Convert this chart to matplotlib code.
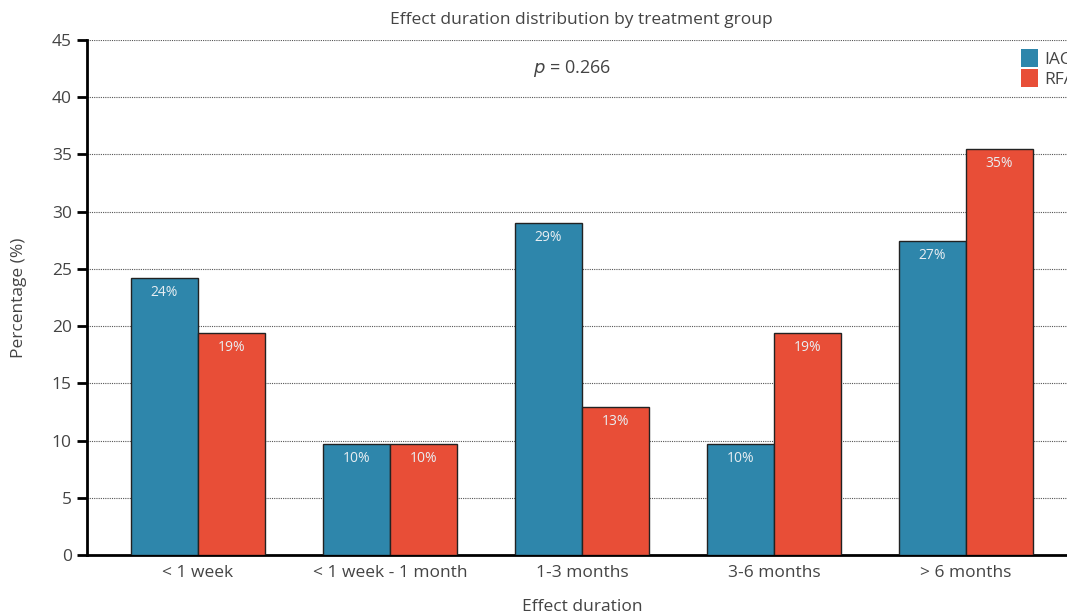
import matplotlib
matplotlib.use("Agg")
import matplotlib.pyplot as plt
import numpy as np

categories = ["< 1 week", "< 1 week - 1 month", "1-3 months", "3-6 months", "> 6 months"]
iac = [24.2, 9.7, 29.0, 9.7, 27.4]
rfa = [19.4, 9.7, 12.9, 19.4, 35.5]
iac_labels = ["24%", "10%", "29%", "10%", "27%"]
rfa_labels = ["19%", "10%", "13%", "19%", "35%"]
yticks = [0, 5, 10, 15, 20, 25, 30, 35, 40, 45]

plt.rcParams['font.family'] = ['Open Sans', 'DejaVu Sans']
txt = '#444444'

fig = plt.figure(figsize=(10.67, 6.14), dpi=100)
ax_left, ax_right = 87, 1077
ax = fig.add_axes([ax_left/1067, 1 - 555/614, (ax_right-ax_left)/1067, (555-40)/614])

x = np.arange(len(categories))
w = 0.35
c_iac = '#2E86AB'
c_rfa = '#E84E37'
b1 = ax.bar(x - w/2, iac, w, color=c_iac, edgecolor='#222222', linewidth=1, zorder=3)
b2 = ax.bar(x + w/2, rfa, w, color=c_rfa, edgecolor='#222222', linewidth=1, zorder=3)

for bars, labs in ((b1, iac_labels), (b2, rfa_labels)):
    for b, l in zip(bars, labs):
        ax.text(b.get_x() + b.get_width()/2, b.get_height() - 0.6, l, ha='center', va='top',
                color='#e8eef2', fontsize=10, zorder=4)

ax.set_xlim(-0.578, 4.578)
ax.set_ylim(0, 45)
ax.set_yticks(yticks)
ax.set_xticks(x)
ax.set_xticklabels(categories, fontsize=12.5, color=txt)
ax.tick_params(axis='x', length=0, pad=7)
ax.tick_params(axis='y', length=7, width=2, colors='black', labelcolor=txt, labelsize=12.5, pad=4)
ax.yaxis.grid(True, linestyle=(0, (1, 1)), color='#555555', linewidth=0.8, zorder=0)
ax.set_axisbelow(True)
for s in ('top', 'right'):
    ax.spines[s].set_visible(False)
for s in ('left', 'bottom'):
    ax.spines[s].set_linewidth(2)
    ax.spines[s].set_color('black')

ax.set_xlabel("Effect duration", fontsize=12.5, color=txt, labelpad=13)
ax.set_ylabel("Percentage (%)", fontsize=12.5, color=txt, labelpad=18)
fig.text(581/1067, 1 - 20/614, "Effect duration distribution by treatment group", ha='center', va='center',
         fontsize=12.5, color=txt)
ax.text(1.95, 42.5, r"$p$ = 0.266", ha='center', va='center', fontsize=13, color=txt)

from matplotlib.patches import Patch
handles = [Patch(facecolor=c_iac, edgecolor='none', label='IAC'),
           Patch(facecolor=c_rfa, edgecolor='none', label='RFA')]
ax.legend(handles=handles, loc='upper left',
          bbox_to_anchor=((1021 - ax_left)/(ax_right - ax_left), 1 - 9/515),
          bbox_transform=ax.transAxes,
          frameon=False, fontsize=12.5, labelcolor=txt, handlelength=1.0, handleheight=1.2,
          handletextpad=0.35, labelspacing=0.1, borderaxespad=0, borderpad=0)

fig.savefig("out.png", dpi=100)
